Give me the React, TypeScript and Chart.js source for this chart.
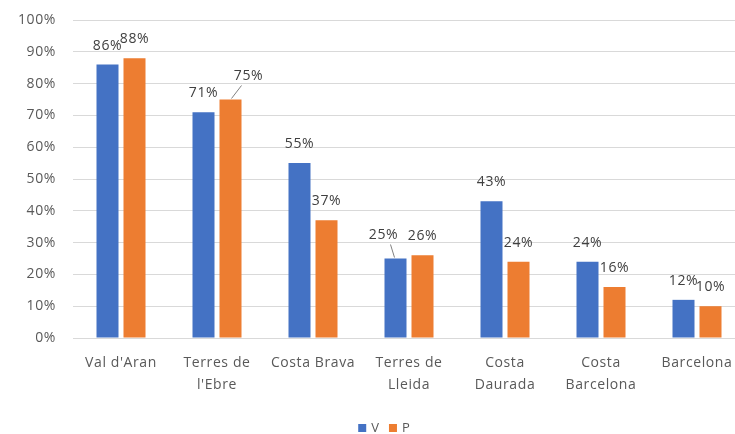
import React, { useEffect, useRef } from "react";
import { Chart, registerables } from "chart.js";

Chart.register(...registerables);

const categories: (string | string[])[] = [
  "Val d'Aran",
  ["Terres de", "l'Ebre"],
  "Costa Brava",
  ["Terres de", "Lleida"],
  ["Costa", "Daurada"],
  ["Costa", "Barcelona"],
  "Barcelona",
];
const seriesV = [86, 71, 55, 25, 43, 24, 12];
const seriesP = [88, 75, 37, 26, 24, 16, 10];
const yTicks = [0, 10, 20, 30, 40, 50, 60, 70, 80, 90, 100];

// label displacement (px) for data labels moved away from their bars: [dataset][index] -> [dx, dy]
const labelShift: Record<string, [number, number]> = {
  "1-1": [18, -4],
  "0-3": [-12, -4],
};

const FONT = "'Open Sans', 'Noto Sans', sans-serif";
const SPACING = "0.6px";

const spacingPlugin = {
  id: "spacing",
  beforeLayout(chart: any) {
    chart.ctx.letterSpacing = SPACING;
  },
  beforeDraw(chart: any) {
    chart.ctx.letterSpacing = SPACING;
  },
};

const dataLabelPlugin = {
  id: "dataLabels",
  afterDatasetsDraw(chart: any) {
    const ctx = chart.ctx;
    ctx.save();
    ctx.letterSpacing = SPACING;
    ctx.font = `14px ${FONT}`;
    ctx.fillStyle = "#404040";
    ctx.textAlign = "center";
    ctx.textBaseline = "middle";
    chart.data.datasets.forEach((ds: any, di: number) => {
      const meta = chart.getDatasetMeta(di);
      meta.data.forEach((bar: any, i: number) => {
        const v = ds.data[i];
        const shift = labelShift[`${di}-${i}`];
        const dx = shift ? shift[0] : 0;
        const dy = shift ? shift[1] : 0;
        const lx = bar.x + dx;
        const ly = bar.y - 19 + dy;
        if (shift) {
          const s = dx > 0 ? 1 : -1;
          ctx.strokeStyle = "#808080";
          ctx.lineWidth = 1;
          ctx.beginPath();
          ctx.moveTo(bar.x + s, bar.y - 1);
          ctx.lineTo(lx - s * 7, ly + 9);
          ctx.stroke();
        }
        ctx.fillText(`${v}%`, lx, ly);
      });
    });
    ctx.restore();
  },
};

const legendPlugin = {
  id: "customLegend",
  afterDraw(chart: any) {
    const ctx = chart.ctx;
    ctx.save();
    ctx.letterSpacing = "0px";
    ctx.font = `13px ${FONT}`;
    ctx.textBaseline = "middle";
    ctx.textAlign = "left";
    const box = 8;
    const gapText = 5;
    const gapItem = 10;
    const items = chart.data.datasets.map((ds: any) => ({
      label: ds.label,
      color: ds.backgroundColor,
      w: box + gapText + ctx.measureText(ds.label).width,
    }));
    const total = items.reduce((a: number, it: any) => a + it.w, 0) + gapItem * (items.length - 1);
    let x = 384 - total / 2;
    const y = 428;
    items.forEach((it: any) => {
      ctx.fillStyle = it.color;
      ctx.fillRect(x, y - box / 2, box, box);
      ctx.fillStyle = "#595959";
      ctx.fillText(it.label, x + box + gapText, y);
      x += it.w + gapItem;
    });
    ctx.restore();
  },
};

export default function App() {
  const ref = useRef<HTMLCanvasElement | null>(null);
  useEffect(() => {
    document.body.style.margin = "0";
    const chart = new Chart(ref.current as HTMLCanvasElement, {
      type: "bar",
      data: {
        labels: categories,
        datasets: [
          {
            label: "V",
            data: seriesV,
            backgroundColor: "#4472C4",
            categoryPercentage: 0.5625,
            barPercentage: 0.815,
          },
          {
            label: "P",
            data: seriesP,
            backgroundColor: "#ED7D31",
            categoryPercentage: 0.5625,
            barPercentage: 0.815,
          },
        ],
      },
      options: {
        animation: false,
        responsive: false,
        maintainAspectRatio: false,
        layout: { padding: { top: 20, right: 15, left: 0, bottom: 18 } },
        plugins: {
          legend: { display: false },
          tooltip: { enabled: false },
        },
        scales: {
          x: {
            grid: { display: false },
            border: { display: false },
            ticks: {
              color: "#595959",
              font: { family: FONT, size: 14, lineHeight: 1.55 },
              padding: 6,
              maxRotation: 0,
              autoSkip: false,
            },
            afterFit(scale: any) {
              scale.height = 78;
            },
          },
          y: {
            min: 0,
            max: 100,
            afterBuildTicks(scale: any) {
              scale.ticks = yTicks.map((v) => ({ value: v }));
            },
            grid: { color: "#d9d9d9", drawTicks: false },
            border: { display: false },
            ticks: {
              color: "#595959",
              font: { family: FONT, size: 14 },
              padding: 17,
              callback: (v: any) => `${v}%`,
            },
            afterFit(scale: any) {
              scale.width = 73;
              scale.paddingTop = 0;
              scale.paddingBottom = 0;
            },
          },
        },
      },
      plugins: [spacingPlugin, dataLabelPlugin, legendPlugin],
    });
    return () => chart.destroy();
  }, []);
  return (
    <div style={{ width: 735, height: 434, overflow: "hidden" }}>
      <canvas ref={ref} width={760} height={434} style={{ display: "block" }} />
    </div>
  );
}
